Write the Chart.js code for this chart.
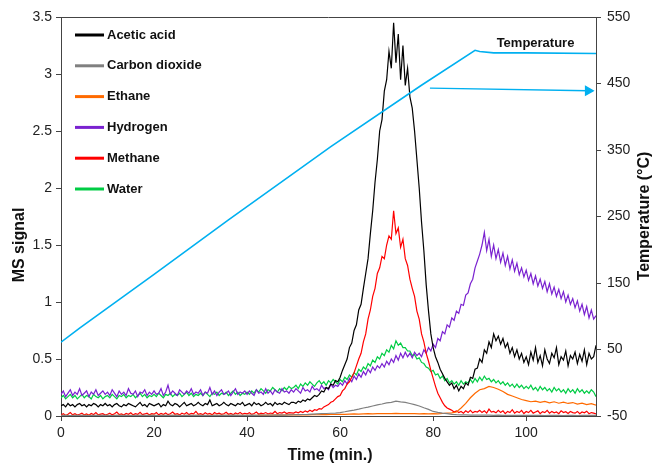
<!DOCTYPE html>
<html>
<head>
<meta charset="utf-8">
<script src="https://cdn.jsdelivr.net/npm/chart.js@4.4.1/dist/chart.umd.min.js"></script>
<style>
  body { margin: 0; background: #fff; }
  canvas { display: block; }
</style>
</head>
<body>
<canvas id="ms_chart" width="654" height="464"></canvas>
<script>
// sampling interval of the traces (min)
const fineStep = 0.5;
const coarseStep = 1;

const seriesNames = ['Acetic acid', 'Carbon dioxide', 'Ethane', 'Hydrogen', 'Methane', 'Water'];
const seriesColors = ['#000000', '#808080', '#ff6a00', '#7a22d0', '#ff0000', '#00cc44'];

// MS signal, every 0.5 min from 0 to 115
const aceticAcid = [
  0.09,0.1,0.08,0.11,0.09,0.1,0.08,0.1,0.11,0.09,0.1,0.08,0.1,0.09,0.11,0.1,0.08,0.1,0.09,0.11,
  0.09,0.1,0.08,0.1,0.11,0.09,0.08,0.1,0.09,0.11,0.1,0.09,0.08,0.1,0.12,0.09,0.1,0.08,0.11,0.1,
  0.09,0.1,0.11,0.08,0.1,0.09,0.13,0.1,0.09,0.11,0.1,0.08,0.1,0.12,0.09,0.1,0.11,0.09,0.1,0.12,
  0.1,0.09,0.11,0.1,0.14,0.09,0.1,0.11,0.09,0.1,0.12,0.1,0.09,0.11,0.1,0.09,0.11,0.1,0.12,0.09,
  0.1,0.11,0.09,0.12,0.1,0.11,0.09,0.1,0.12,0.1,0.11,0.09,0.12,0.1,0.11,0.1,0.12,0.11,0.1,0.12,
  0.12,0.11,0.13,0.12,0.14,0.13,0.15,0.14,0.16,0.18,0.17,0.19,0.22,0.21,0.25,0.24,0.28,0.27,0.31,0.3,
  0.34,0.4,0.45,0.5,0.6,0.64,0.75,0.8,0.93,0.98,1.12,1.25,1.38,1.6,1.8,2.05,2.25,2.5,2.6,2.85,
  2.95,3.2,3.05,3.45,3.1,3.35,2.95,3.25,2.9,3.05,2.8,2.7,2.5,2.25,2.0,1.7,1.45,1.15,0.92,0.72,
  0.6,0.52,0.47,0.41,0.37,0.33,0.3,0.27,0.29,0.24,0.27,0.22,0.26,0.24,0.29,0.27,0.34,0.33,0.41,0.42,
  0.5,0.47,0.58,0.55,0.65,0.6,0.72,0.66,0.7,0.63,0.68,0.6,0.64,0.55,0.6,0.52,0.58,0.5,0.55,0.47,
  0.52,0.45,0.56,0.49,0.6,0.47,0.53,0.44,0.58,0.5,0.46,0.55,0.51,0.6,0.45,0.52,0.49,0.57,0.44,0.53,
  0.5,0.56,0.46,0.54,0.48,0.58,0.45,0.55,0.5,0.52,0.62
];

const hydrogen = [
  0.19,0.22,0.17,0.2,0.23,0.18,0.21,0.19,0.24,0.18,0.2,0.22,0.17,0.21,0.19,0.23,0.18,0.2,0.22,0.19,
  0.21,0.18,0.23,0.2,0.17,0.22,0.19,0.21,0.18,0.24,0.2,0.19,0.22,0.17,0.21,0.2,0.23,0.18,0.21,0.19,
  0.22,0.19,0.2,0.24,0.18,0.21,0.27,0.19,0.22,0.2,0.18,0.23,0.21,0.19,0.22,0.2,0.24,0.19,0.21,0.2,
  0.23,0.18,0.21,0.2,0.25,0.19,0.22,0.18,0.21,0.23,0.19,0.2,0.22,0.18,0.21,0.24,0.19,0.21,0.2,0.22,
  0.19,0.22,0.2,0.18,0.23,0.2,0.21,0.19,0.24,0.2,0.22,0.19,0.23,0.21,0.2,0.24,0.21,0.22,0.2,0.23,
  0.21,0.24,0.22,0.2,0.25,0.22,0.23,0.21,0.26,0.23,0.24,0.22,0.27,0.24,0.25,0.23,0.28,0.25,0.27,0.26,
  0.29,0.27,0.31,0.28,0.33,0.3,0.35,0.32,0.37,0.34,0.39,0.36,0.41,0.38,0.43,0.4,0.44,0.42,0.46,0.43,
  0.48,0.45,0.5,0.47,0.53,0.49,0.55,0.51,0.56,0.52,0.55,0.51,0.56,0.53,0.55,0.52,0.58,0.55,0.6,0.57,
  0.63,0.6,0.68,0.66,0.74,0.72,0.8,0.78,0.86,0.84,0.92,0.9,0.98,0.97,1.06,1.08,1.16,1.2,1.3,1.36,
  1.42,1.5,1.61,1.45,1.55,1.4,1.5,1.38,1.46,1.35,1.43,1.32,1.4,1.29,1.37,1.27,1.34,1.24,1.3,1.22,
  1.28,1.19,1.25,1.16,1.23,1.14,1.2,1.12,1.18,1.09,1.16,1.07,1.13,1.05,1.11,1.03,1.09,1.0,1.06,0.98,
  1.03,0.95,1.01,0.92,0.98,0.89,0.96,0.86,0.93,0.85,0.88
];

const methane = [
  0.01,0.02,0.005,0.015,0.03,0.01,0.02,0.008,0.015,0.025,0.01,0.018,0.006,0.022,0.012,0.03,0.01,0.016,0.02,0.008,
  0.015,0.025,0.01,0.02,0.035,0.012,0.018,0.008,0.022,0.015,0.028,0.01,0.02,0.014,0.032,0.012,0.018,0.025,0.01,0.02,
  0.016,0.03,0.01,0.022,0.014,0.026,0.012,0.02,0.035,0.015,0.02,0.01,0.025,0.016,0.03,0.012,0.022,0.018,0.04,0.015,
  0.02,0.012,0.028,0.016,0.022,0.01,0.03,0.018,0.024,0.014,0.02,0.032,0.015,0.022,0.012,0.026,0.018,0.03,0.016,0.024,
  0.018,0.028,0.014,0.022,0.035,0.016,0.025,0.02,0.03,0.018,0.026,0.022,0.04,0.02,0.03,0.025,0.035,0.022,0.03,0.028,
  0.025,0.035,0.028,0.04,0.03,0.045,0.035,0.05,0.04,0.055,0.05,0.065,0.06,0.08,0.09,0.1,0.12,0.13,0.15,0.17,
  0.18,0.22,0.24,0.28,0.3,0.34,0.38,0.44,0.5,0.55,0.65,0.72,0.85,0.93,1.05,1.12,1.25,1.3,1.4,1.38,
  1.5,1.58,1.55,1.8,1.6,1.65,1.48,1.55,1.38,1.32,1.2,1.12,1.05,0.92,0.85,0.72,0.65,0.55,0.48,0.4,
  0.33,0.26,0.2,0.16,0.12,0.09,0.07,0.06,0.05,0.035,0.045,0.03,0.04,0.025,0.045,0.03,0.05,0.028,0.04,0.035,
  0.05,0.03,0.045,0.025,0.06,0.035,0.04,0.028,0.05,0.03,0.045,0.02,0.04,0.03,0.055,0.025,0.04,0.03,0.05,0.022,
  0.04,0.03,0.05,0.025,0.035,0.045,0.02,0.038,0.03,0.05,0.025,0.04,0.028,0.035,0.02,0.045,0.03,0.038,0.022,0.04,
  0.03,0.025,0.04,0.02,0.035,0.028,0.042,0.02,0.03,0.025,0.018
];

const water = [
  0.16,0.18,0.15,0.17,0.19,0.16,0.18,0.15,0.17,0.19,0.16,0.18,0.17,0.15,0.19,0.17,0.16,0.18,0.15,0.17,
  0.18,0.16,0.19,0.17,0.15,0.18,0.17,0.19,0.16,0.18,0.17,0.19,0.16,0.18,0.2,0.17,0.19,0.16,0.18,0.17,
  0.19,0.17,0.2,0.18,0.16,0.19,0.18,0.2,0.17,0.19,0.18,0.2,0.17,0.19,0.21,0.18,0.2,0.17,0.19,0.18,
  0.2,0.18,0.21,0.19,0.17,0.2,0.19,0.21,0.18,0.2,0.19,0.21,0.18,0.2,0.22,0.19,0.21,0.18,0.2,0.19,
  0.21,0.19,0.22,0.2,0.23,0.21,0.24,0.22,0.2,0.23,0.22,0.25,0.23,0.21,0.24,0.22,0.25,0.23,0.26,0.24,
  0.25,0.27,0.24,0.28,0.26,0.29,0.27,0.3,0.28,0.26,0.29,0.31,0.28,0.3,0.27,0.31,0.29,0.32,0.3,0.28,
  0.32,0.3,0.34,0.32,0.36,0.34,0.38,0.36,0.41,0.39,0.43,0.41,0.46,0.44,0.49,0.47,0.52,0.5,0.55,0.53,
  0.58,0.56,0.62,0.59,0.66,0.62,0.64,0.6,0.6,0.57,0.57,0.53,0.54,0.5,0.51,0.47,0.46,0.43,0.42,0.39,
  0.4,0.36,0.37,0.33,0.35,0.31,0.33,0.29,0.31,0.28,0.3,0.27,0.31,0.28,0.3,0.29,0.32,0.29,0.33,0.3,
  0.34,0.31,0.35,0.32,0.33,0.3,0.32,0.29,0.31,0.28,0.3,0.27,0.29,0.26,0.28,0.25,0.28,0.25,0.27,0.24,
  0.26,0.24,0.27,0.23,0.25,0.22,0.26,0.23,0.25,0.22,0.24,0.21,0.25,0.22,0.24,0.21,0.23,0.2,0.24,0.21,
  0.23,0.2,0.24,0.21,0.23,0.2,0.22,0.2,0.23,0.21,0.17
];

// MS signal, every 1 min from 0 to 115
const carbonDioxide = [
  0.005,0.006,0.004,0.005,0.006,0.005,0.004,0.006,0.005,0.005,0.006,0.004,0.005,0.006,0.005,0.004,0.006,0.005,0.005,0.006,
  0.005,0.004,0.006,0.005,0.006,0.005,0.004,0.005,0.006,0.005,0.005,0.006,0.004,0.006,0.005,0.006,0.005,0.007,0.006,0.005,
  0.006,0.007,0.006,0.007,0.008,0.007,0.008,0.009,0.008,0.01,0.011,0.012,0.013,0.014,0.016,0.018,0.02,0.022,0.024,0.026,
  0.03,0.037,0.045,0.052,0.06,0.07,0.078,0.088,0.098,0.105,0.115,0.12,0.13,0.124,0.12,0.11,0.1,0.088,0.072,0.058,
  0.04,0.032,0.025,0.02,0.015,0.012,0.01,0.009,0.008,0.008,0.007,0.008,0.007,0.006,0.007,0.006,0.006,0.005,0.006,0.005,
  0.005,0.006,0.005,0.005,0.004,0.005,0.006,0.005,0.004,0.005,0.005,0.004,0.005,0.006,0.005,0.005
];

const ethane = [
  0.004,0.005,0.004,0.005,0.004,0.005,0.005,0.004,0.005,0.004,0.005,0.004,0.005,0.005,0.004,0.005,0.004,0.005,0.004,0.005,
  0.005,0.004,0.005,0.004,0.005,0.005,0.004,0.005,0.004,0.005,0.005,0.004,0.005,0.006,0.005,0.005,0.006,0.005,0.006,0.005,
  0.006,0.005,0.006,0.007,0.006,0.007,0.008,0.007,0.008,0.009,0.01,0.009,0.011,0.01,0.012,0.011,0.013,0.012,0.014,0.013,
  0.015,0.014,0.016,0.018,0.017,0.019,0.02,0.018,0.021,0.02,0.022,0.02,0.023,0.021,0.022,0.02,0.021,0.019,0.02,0.018,
  0.02,0.019,0.022,0.025,0.028,0.035,0.07,0.11,0.16,0.2,0.23,0.24,0.26,0.25,0.235,0.215,0.19,0.175,0.16,0.145,
  0.135,0.125,0.13,0.12,0.128,0.115,0.125,0.112,0.122,0.11,0.118,0.105,0.112,0.1,0.108,0.095
];

// temperature programme (right axis)
const tempTime = [0, 4, 20, 36, 52, 58, 77.4, 89, 90, 93, 100, 115];
const tempValue = [61, 82, 163, 245, 325, 355, 447, 500, 498, 496, 496, 495];

// arrow pointing the temperature line to its axis
const arrowTime = [79.3, 113.3];
const arrowValue = [443, 439];

const timeTicks = [0, 20, 40, 60, 80, 100];
const signalTicks = [0, 0.5, 1, 1.5, 2, 2.5, 3, 3.5];
const tempTicks = [-50, 50, 150, 250, 350, 450, 550];

const axisColor = '#444';
const fontFamily = '"Liberation Sans", Arial, sans-serif';
const tempColor = '#00b0f0';

const toPoints = (values, step) => values.map((v, i) => ({x: i * step, y: v}));
const pairPoints = (xs, ys) => xs.map((x, i) => ({x: x, y: ys[i]}));

const traceData = [
  toPoints(aceticAcid, fineStep),
  toPoints(carbonDioxide, coarseStep),
  toPoints(ethane, coarseStep),
  toPoints(hydrogen, fineStep),
  toPoints(methane, fineStep),
  toPoints(water, fineStep)
];

// first dataset is painted last (on top)
const drawOrder = [0, 1, 2, 4, 3, 5];

let datasets = [
  {label: 'Temperature', data: pairPoints(tempTime, tempValue), yAxisID: 'y2',
   borderColor: tempColor, borderWidth: 1.6, pointRadius: 0},
  {label: 'arrow', data: pairPoints(arrowTime, arrowValue), yAxisID: 'y2',
   borderColor: tempColor, borderWidth: 1.4, pointRadius: [0, 5], pointStyle: 'triangle',
   pointRotation: 90, pointBackgroundColor: tempColor, pointBorderColor: tempColor}
];
drawOrder.forEach(i => {
  datasets.push({label: seriesNames[i], data: traceData[i], yAxisID: 'y',
    borderColor: seriesColors[i], borderWidth: 1.2, pointRadius: 0});
});

const tickSetter = (list) => (scale) => { scale.ticks = list.map(v => ({value: v})); };
const plainLabel = v => String(v);

const axisStyle = {
  grid: {display: true, drawOnChartArea: false, drawTicks: true, tickLength: 5, color: axisColor},
  border: {display: true, color: axisColor, width: 1}
};

const overlay = {
  id: 'overlay',
  afterDraw(chart) {
    const {ctx, chartArea: a, scales} = chart;
    ctx.save();
    // top frame
    ctx.strokeStyle = axisColor;
    ctx.lineWidth = 1;
    ctx.beginPath();
    ctx.moveTo(a.left, a.top + 0.5);
    ctx.lineTo(a.right, a.top + 0.5);
    ctx.stroke();

    // legend
    ctx.font = 'bold 13px ' + fontFamily;
    ctx.textBaseline = 'middle';
    ctx.textAlign = 'left';
    seriesNames.forEach((name, i) => {
      const y = a.top + 18 + i * 30.8;
      ctx.strokeStyle = seriesColors[i];
      ctx.lineWidth = 3;
      ctx.beginPath();
      ctx.moveTo(a.left + 14, y);
      ctx.lineTo(a.left + 43, y);
      ctx.stroke();
      ctx.fillStyle = '#111';
      ctx.fillText(name, a.left + 46, y);
    });

    // temperature label
    ctx.textAlign = 'center';
    ctx.fillText('Temperature', scales.x.getPixelForValue(102), scales.y2.getPixelForValue(511));

    // axis titles
    ctx.font = 'bold 16px ' + fontFamily;
    ctx.fillText('Time (min.)', 330, 456);
    ctx.save();
    ctx.translate(20, 245);
    ctx.rotate(-Math.PI / 2);
    ctx.fillText('MS signal', 0, 0);
    ctx.restore();
    ctx.save();
    ctx.translate(645, 216);
    ctx.rotate(-Math.PI / 2);
    ctx.fillText('Temperature (°C)', 0, 0);
    ctx.restore();
    ctx.restore();
  }
};

new Chart(document.getElementById('ms_chart'), {
  type: 'line',
  data: {datasets: datasets},
  options: {
    responsive: false,
    animation: false,
    devicePixelRatio: 1,
    layout: {padding: {top: 17, left: 0, right: 0, bottom: 0}},
    plugins: {legend: {display: false}, tooltip: {enabled: false}},
    elements: {line: {tension: 0}},
    scales: {
      x: Object.assign({
        type: 'linear', min: 0, max: 115,
        afterBuildTicks: tickSetter(timeTicks),
        afterFit: s => { s.height = 48; },
        ticks: {color: '#222', font: {size: 14, family: fontFamily}, padding: 4, maxRotation: 0, callback: plainLabel}
      }, axisStyle),
      y: Object.assign({
        type: 'linear', position: 'left', min: 0, max: 3.5,
        afterBuildTicks: tickSetter(signalTicks),
        afterFit: s => { s.width = 61; },
        ticks: {color: '#222', font: {size: 14, family: fontFamily}, padding: 4, callback: plainLabel}
      }, axisStyle),
      y2: Object.assign({
        type: 'linear', position: 'right', min: -50, max: 550,
        afterBuildTicks: tickSetter(tempTicks),
        afterFit: s => { s.width = 58; },
        ticks: {color: '#222', font: {size: 14, family: fontFamily}, padding: 6, callback: plainLabel}
      }, axisStyle)
    }
  },
  plugins: [overlay]
});
</script>
</body>
</html>
